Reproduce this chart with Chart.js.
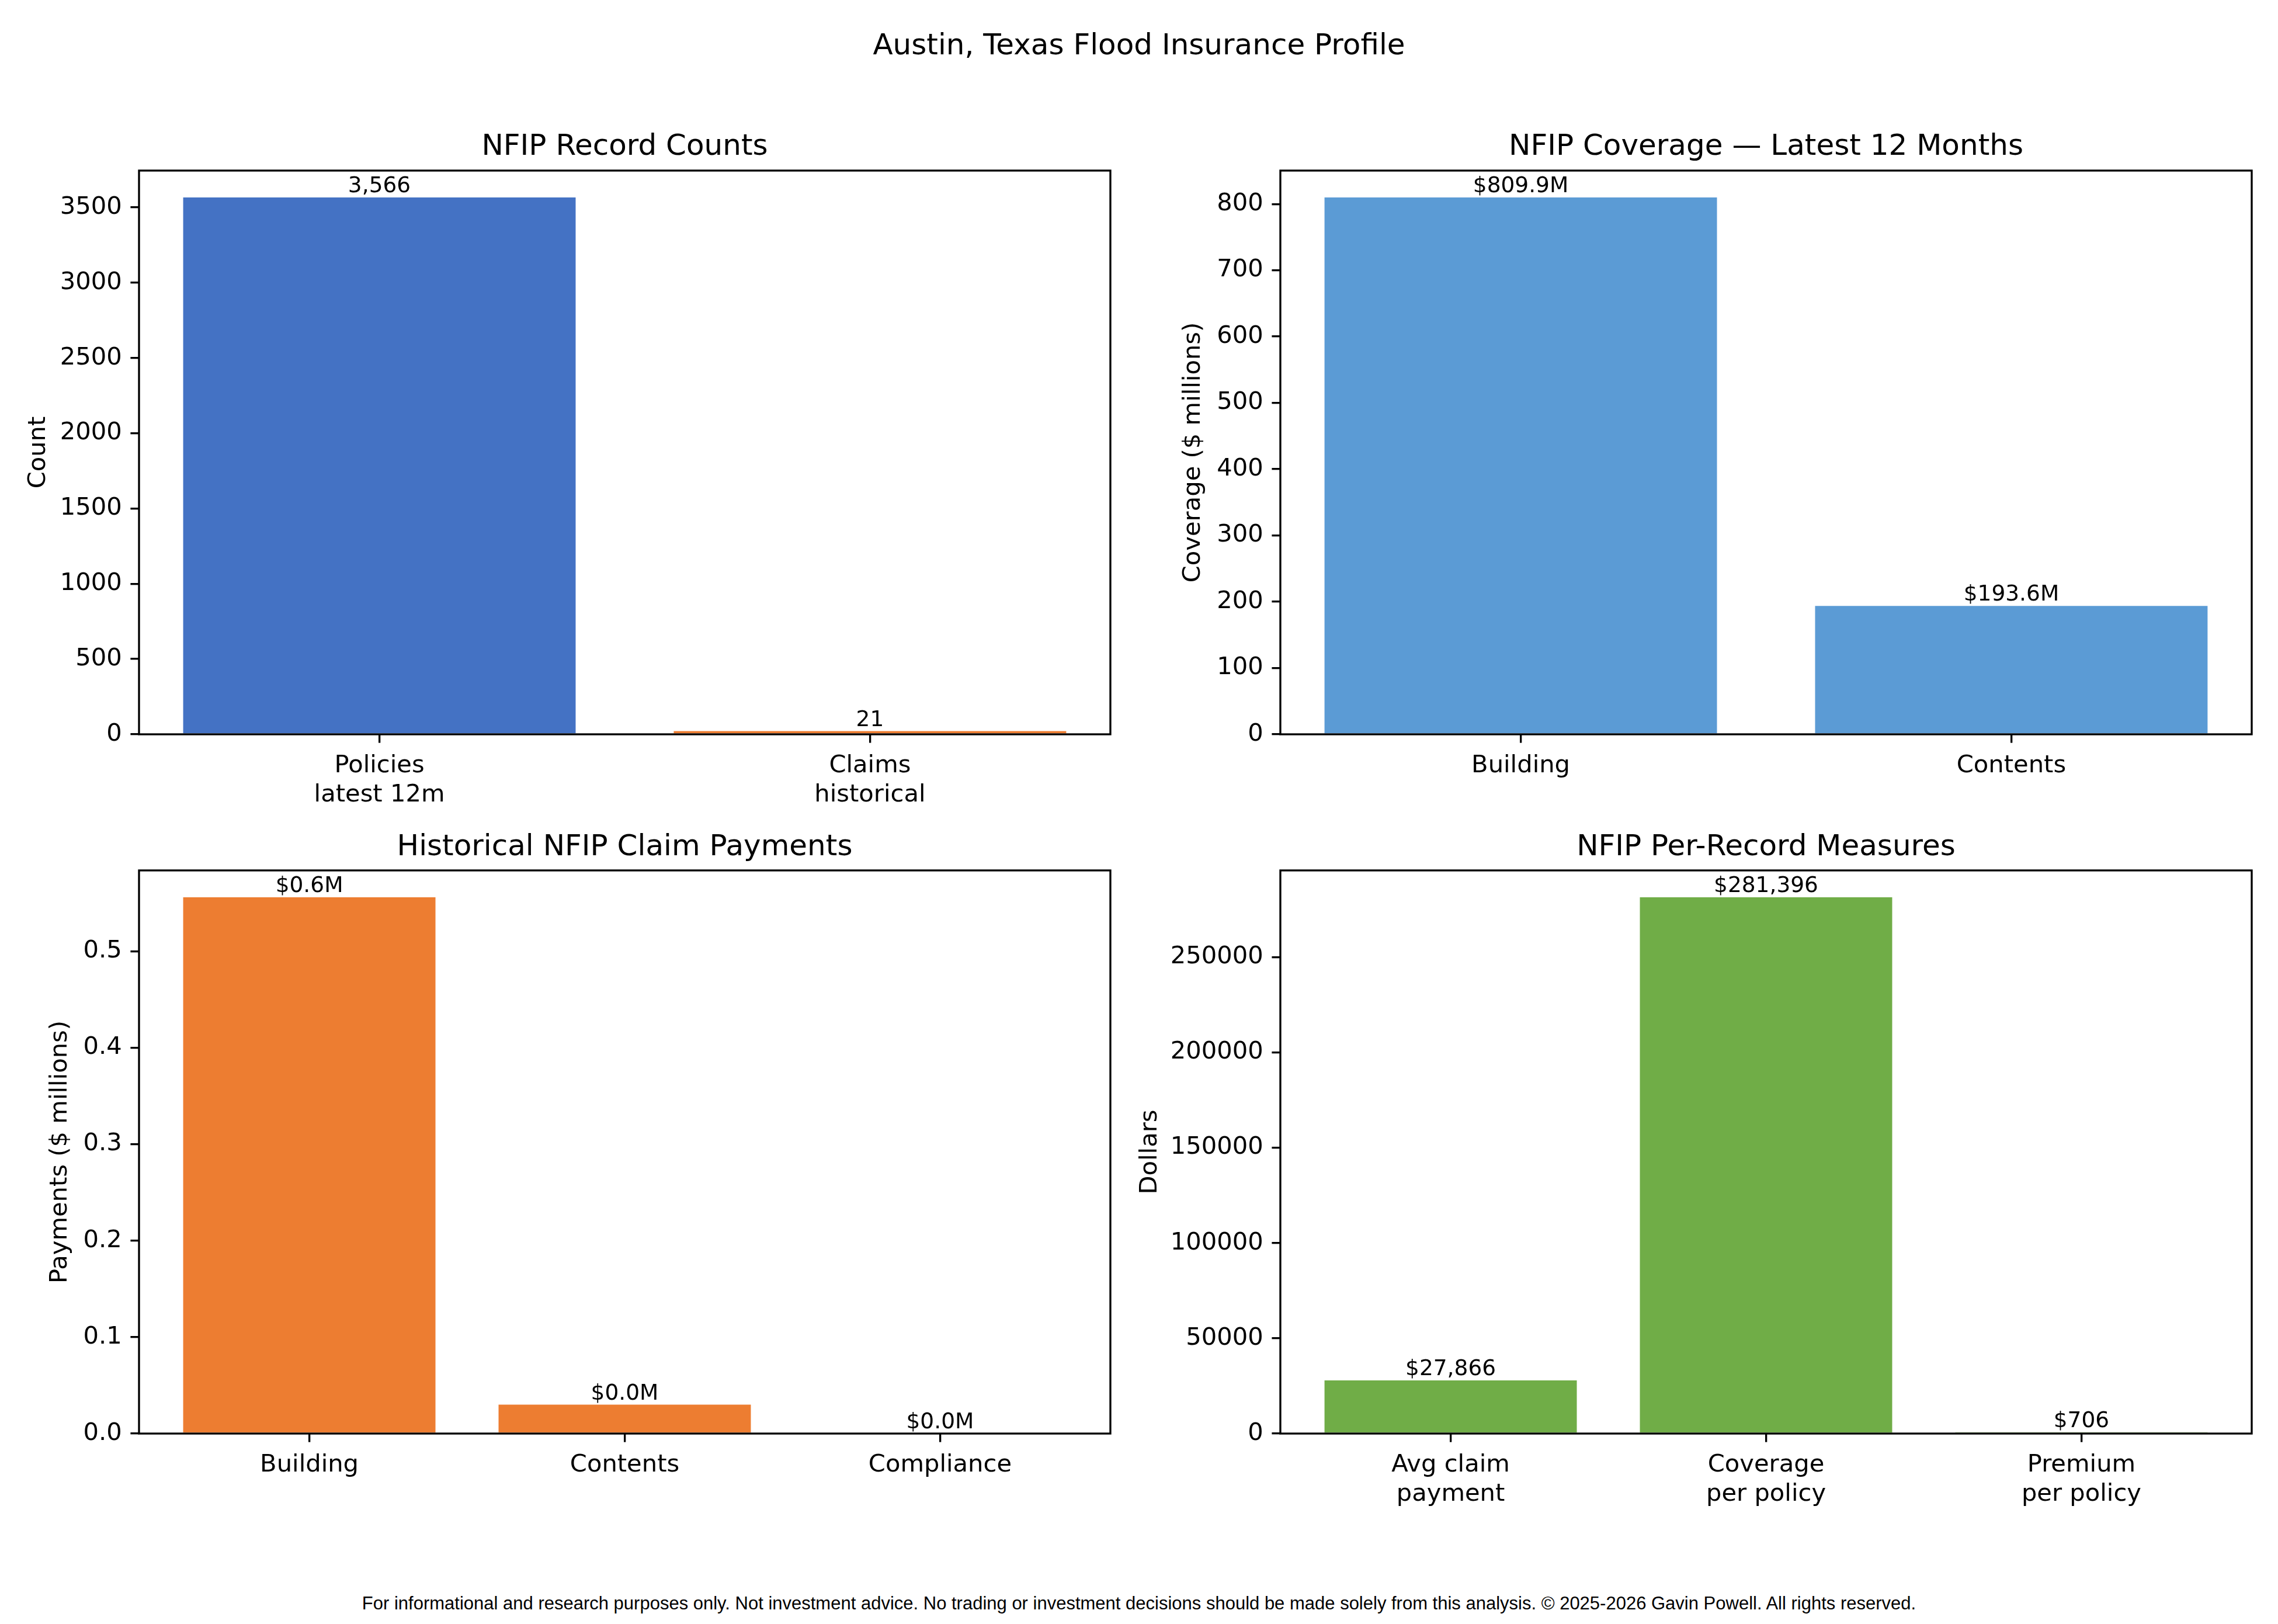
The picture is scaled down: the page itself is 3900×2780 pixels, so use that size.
<!DOCTYPE html>
<html>
<head>
<meta charset="utf-8">
<title>Austin, Texas Flood Insurance Profile</title>
<script src="https://cdn.jsdelivr.net/npm/chart.js@4.4.1/dist/chart.umd.min.js"></script>
<style>
    html, body { margin: 0; padding: 0; background: #fff; }
    #page { position: relative; width: 3900px; height: 2780px; overflow: hidden; color: #000; }
    #page canvas { position: absolute; }
    .suptitle { position: absolute; left: 0; top: 51px; width: 3900px; text-align: center;
                font-family: 'DejaVu Sans', sans-serif; font-size: 50px; line-height: 1; }
    .footer { position: absolute; left: 0; top: 2729px; width: 3900px; text-align: center;
              font-family: 'Liberation Sans', Arial, sans-serif; font-size: 31px; line-height: 1; }
</style>
</head>
<body>
<div id="page">
    <div class="suptitle">Austin, Texas Flood Insurance Profile</div>
    <canvas id="countsChart" width="1950" height="1240" style="left:0;top:160px"></canvas>
    <canvas id="coverageChart" width="1980" height="1240" style="left:1920px;top:160px"></canvas>
    <canvas id="paymentsChart" width="1950" height="1280" style="left:0;top:1400px"></canvas>
    <canvas id="measuresChart" width="1980" height="1280" style="left:1920px;top:1400px"></canvas>
    <div class="footer">For informational and research purposes only. Not investment advice. No trading or investment decisions should be made solely from this analysis. © 2025-2026 Gavin Powell. All rights reserved.</div>
</div>
<script>
// data
const COUNT_LABELS = [['Policies', 'latest 12m'], ['Claims', 'historical']];
const COUNT_VALUES = [3566, 21];

const COVERAGE_LABELS = ['Building', 'Contents'];
const COVERAGE_VALUES = [809.9, 193.6];   // $ millions

const PAYMENT_LABELS = ['Building', 'Contents', 'Compliance'];
const PAYMENT_VALUES = [0.556, 0.03, 0];  // $ millions

const MEASURE_LABELS = [['Avg claim', 'payment'], ['Coverage', 'per policy'], ['Premium', 'per policy']];
const MEASURE_VALUES = [27866, 281396, 706];

// y tick steps
const COUNT_STEP = 500;
const COVERAGE_STEP = 100;
const PAYMENT_STEP = 0.1;
const MEASURE_STEP = 50000;

(() => {
    const PT = 300 / 72;          // points -> px at 300 dpi
    const LINE = 0.8 * PT;
    const TICK_LEN = 3.5 * PT;
    const TICK_PAD = 3.5 * PT;
    const FONT = "'DejaVu Sans'";

    const BLUE = '#4472C4';
    const LIGHT_BLUE = '#5B9BD5';
    const ORANGE = '#ED7D31';
    const GREEN = '#70AD47';

    Chart.defaults.font.family = FONT;
    Chart.defaults.font.size = 10 * PT;
    Chart.defaults.color = '#000';

    // axes box on all four sides
    const framePlugin = {
        id: 'frame',
        afterDatasetsDraw(chart) {
            const { ctx, chartArea: a } = chart;
            ctx.save();
            ctx.strokeStyle = '#000';
            ctx.lineWidth = LINE;
            ctx.strokeRect(a.left, a.top, a.right - a.left, a.bottom - a.top);
            ctx.restore();
        }
    };

    // value text above each bar
    const valueLabelPlugin = {
        id: 'valueLabels',
        afterDatasetsDraw(chart, args, opts) {
            const { ctx } = chart;
            const size = 9 * PT;
            const points = chart.data.datasets[0].data;
            ctx.save();
            ctx.font = `${size}px ${FONT}`;
            ctx.fillStyle = '#000';
            ctx.textAlign = 'center';
            ctx.textBaseline = 'alphabetic';
            chart.getDatasetMeta(0).data.forEach((bar, i) => {
                ctx.fillText(opts.format(points[i].y), bar.x, bar.y - 0.236 * size);
            });
            ctx.restore();
        }
    };

    const axisLines = {
        drawOnChartArea: false,
        drawTicks: true,
        offset: false,
        tickLength: TICK_LEN,
        lineWidth: LINE,
        color: '#000'
    };

    function makeChart(canvasId, cfg) {
        const n = cfg.labels.length;
        const span = n - 1 + 0.8;
        const yMax = Math.max(...cfg.values) * 1.05;
        const yTicks = [];
        for (let i = 0; i * cfg.step <= yMax; i++) yTicks.push({ value: i * cfg.step });

        return new Chart(document.getElementById(canvasId), {
            type: 'bar',
            data: {
                datasets: [{
                    data: cfg.values.map((v, i) => ({ x: i, y: v })),
                    backgroundColor: cfg.colors,
                    borderWidth: 0,
                    categoryPercentage: 1,
                    barPercentage: 0.8
                }]
            },
            plugins: [framePlugin, valueLabelPlugin],
            options: {
                responsive: false,
                animation: false,
                devicePixelRatio: 1,
                events: [],
                layout: { padding: { left: 0, right: cfg.padRight, top: 0, bottom: 0 } },
                plugins: {
                    legend: { display: false },
                    tooltip: { enabled: false },
                    title: {
                        display: true,
                        text: cfg.title,
                        fullSize: false,
                        color: '#000',
                        font: { size: 12 * PT, weight: 'normal' },
                        padding: { top: cfg.titleTop, bottom: cfg.titleBottom }
                    },
                    valueLabels: { format: cfg.format }
                },
                scales: {
                    x: {
                        type: 'linear',
                        offset: false,
                        min: -0.4 - 0.05 * span,
                        max: n - 1 + 0.4 + 0.05 * span,
                        afterBuildTicks: axis => { axis.ticks = cfg.labels.map((_, i) => ({ value: i })); },
                        afterFit: axis => { axis.height = cfg.xAxisHeight; },
                        grid: axisLines,
                        border: { display: false },
                        ticks: {
                            callback: v => cfg.labels[Math.round(v)],
                            padding: TICK_PAD,
                            maxRotation: 0,
                            autoSkip: false,
                            color: '#000'
                        }
                    },
                    y: {
                        min: 0,
                        max: yMax,
                        afterBuildTicks: axis => { axis.ticks = yTicks.map(t => ({ value: t.value })); },
                        afterFit: axis => { axis.width = cfg.yAxisWidth; },
                        grid: axisLines,
                        border: { display: false },
                        ticks: {
                            padding: TICK_PAD,
                            callback: cfg.tickFormat,
                            color: '#000'
                        },
                        title: {
                            display: true,
                            text: cfg.yTitle,
                            color: '#000',
                            font: { size: 10 * PT },
                            padding: { top: cfg.yTitlePad, bottom: 0 }
                        }
                    }
                }
            }
        });
    }

    const plainInt = v => String(Math.round(v));
    const millions = v => '$' + v.toFixed(1) + 'M';

    makeChart('countsChart', {
        labels: COUNT_LABELS, values: COUNT_VALUES, colors: [BLUE, ORANGE],
        title: 'NFIP Record Counts', yTitle: 'Count', step: COUNT_STEP,
        tickFormat: plainInt, format: v => v.toLocaleString('en-US'),
        yAxisWidth: 238, padRight: 49, titleTop: 62, titleBottom: 10, xAxisHeight: 143, yTitlePad: 41
    });

    makeChart('coverageChart', {
        labels: COVERAGE_LABELS, values: COVERAGE_VALUES, colors: LIGHT_BLUE,
        title: 'NFIP Coverage \u2014 Latest 12 Months', yTitle: 'Coverage ($ millions)', step: COVERAGE_STEP,
        tickFormat: plainInt, format: millions,
        yAxisWidth: 272, padRight: 45, titleTop: 62, titleBottom: 10, xAxisHeight: 143, yTitlePad: 98
    });

    makeChart('paymentsChart', {
        labels: PAYMENT_LABELS, values: PAYMENT_VALUES, colors: ORANGE,
        title: 'Historical NFIP Claim Payments', yTitle: 'Payments ($ millions)', step: PAYMENT_STEP,
        tickFormat: v => v.toFixed(1), format: millions,
        yAxisWidth: 238, padRight: 49, titleTop: 21, titleBottom: 9, xAxisHeight: 226, yTitlePad: 78
    });

    makeChart('measuresChart', {
        labels: MEASURE_LABELS, values: MEASURE_VALUES, colors: GREEN,
        title: 'NFIP Per-Record Measures', yTitle: 'Dollars', step: MEASURE_STEP,
        tickFormat: plainInt, format: v => '$' + Math.round(v).toLocaleString('en-US'),
        yAxisWidth: 272, padRight: 45, titleTop: 21, titleBottom: 9, xAxisHeight: 226, yTitlePad: 24
    });
})();
</script>
</body>
</html>
